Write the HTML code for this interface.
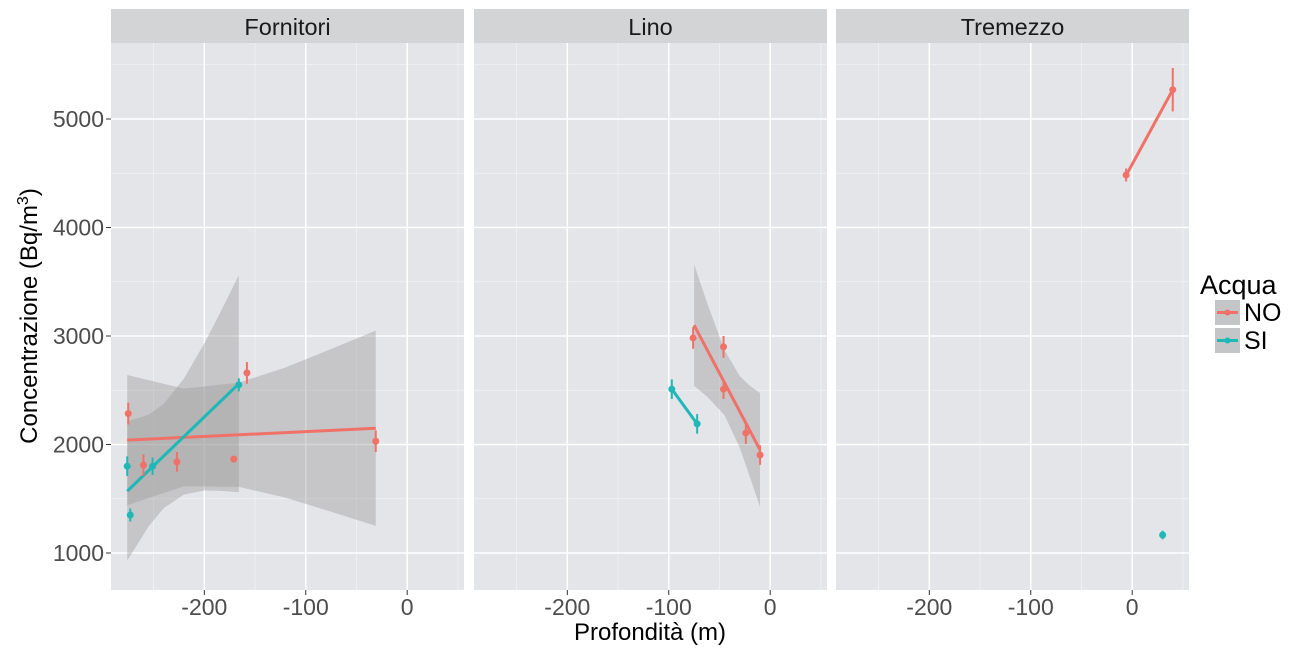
<!DOCTYPE html>
<html><head><meta charset="utf-8"><style>
body{margin:0;background:#fff;}
svg{display:block;font-family:"Liberation Sans",sans-serif;}
</style></head><body>
<svg id="chart" width="1299" height="650"></svg>
<script>
// ---- data ----
const panels = ["Fornitori","Lino","Tremezzo"];
const xTicks = [-200,-100,0];
const yTicks = [1000,2000,3000,4000,5000];
const noPanel = [0,0,0,0,0,0,1,1,1,1,1,2,2];
const noX = [-275,-260,-227,-171,-158,-31,-76,-46,-46,-24,-10,-6,40];
const noY = [2285,1810,1840,1865,2660,2030,2982,2900,2510,2106,1903,4484,5270];
const noErr = [100,100,90,0,100,100,100,100,90,100,90,60,200];
const siPanel = [0,0,0,0,1,1,2];
const siX = [-276,-273,-251,-166,-97,-72,30];
const siY = [1800,1350,1800,2550,2510,2190,1166];
const siErr = [90,60,80,60,90,90,40];
const noLinePanel = [0,1,2];
const noLineX0 = [-276,-75,-6], noLineY0 = [2040,3100,4480];
const noLineX1 = [-31,-10,40], noLineY1 = [2150,1950,5270];
const siLinePanel = [0,1];
const siLineX0 = [-276,-97], siLineY0 = [1570,2510];
const siLineX1 = [-166,-72], siLineY1 = [2560,2190];
const bandFornNoX = [-276,-220,-166,-120,-75,-31];
const bandFornNoLo = [1440,1615,1610,1510,1380,1250];
const bandFornNoHi = [2640,2515,2570,2710,2880,3050];
const bandFornSiX = [-276,-255,-240,-220,-200,-185,-166];
const bandFornSiLo = [928,1244,1414,1539,1576,1574,1560];
const bandFornSiHi = [2212,2274,2374,2609,2932,3204,3560];
const bandLinoNoX = [-75,-62,-45,-30,-20,-10];
const bandLinoNoLo = [2540,2440,2270,1970,1700,1425];
const bandLinoNoHi = [3660,3300,2870,2630,2540,2475];

const RED="#f07168", TEAL="#1fb8b7";
const svg=document.getElementById('chart');
const NS="http://www.w3.org/2000/svg";
function mk(tag,attrs,parent){const e=document.createElementNS(NS,tag);for(const k in attrs)e.setAttribute(k,attrs[k]);(parent||svg).appendChild(e);return e;}
const pLeft=[111,474,836], pW=353, pTop=43, pBot=590;
function X(p,v){return pLeft[p]+ (v+292)/348*pW;}
function Y(v){return 553-(v-1000)*0.1085;}

panels.forEach((name,p)=>{
  const g=mk('g',{});
  
  
  const bg=mk('rect',{x:pLeft[p],y:pTop,width:pW,height:pBot-pTop,fill:'#e4e5e8'},g);
  
  
  const st=mk('rect',{x:pLeft[p],y:9,width:pW,height:34,fill:'#d3d4d6'},g);
  
  
  const t=mk('text',{x:pLeft[p]+pW/2,y:35,'text-anchor':'middle','font-size':23.5,fill:'#1a1a1a'},g);
  t.textContent=name;
  
  
  for(let v=500; v<=5500; v+=1000){const y=Y(v); if(y>pTop&&y<pBot) mk('line',{x1:pLeft[p],x2:pLeft[p]+pW,y1:y,y2:y,stroke:'#f2f3f4','stroke-width':0.7},g);}
  for(let v=-250; v<=50; v+=100){const x=X(p,v); mk('line',{x1:x,x2:x,y1:pTop,y2:pBot,stroke:'#f2f3f4','stroke-width':0.7},g);}
  yTicks.forEach(v=>{const y=Y(v);mk('line',{x1:pLeft[p],x2:pLeft[p]+pW,y1:y,y2:y,stroke:'#fff','stroke-width':1.5},g);});
  xTicks.forEach(v=>{const x=X(p,v);mk('line',{x1:x,x2:x,y1:pTop,y2:pBot,stroke:'#fff','stroke-width':1.5},g);
    mk('line',{x1:x,x2:x,y1:pBot,y2:pBot+5,stroke:'#333','stroke-width':1},g);
    const tl=mk('text',{x:x,y:615,'text-anchor':'middle','font-size':23,fill:'#4d4d4d'},g);
    tl.textContent=v;
    
    
  });
});
yTicks.forEach(v=>{const y=Y(v);
  mk('line',{x1:106,x2:111,y1:y,y2:y,stroke:'#333','stroke-width':1});
  const tl=mk('text',{x:104,y:y+8,'text-anchor':'end','font-size':23,fill:'#4d4d4d'});
  tl.textContent=v;
  
  
});
function band(p,xs,lo,hi,name){
  let d='M'+xs.map((x,i)=>X(p,x)+','+Y(hi[i])).join('L');
  for(let i=xs.length-1;i>=0;i--) d+='L'+X(p,xs[i])+','+Y(lo[i]);
  const e=mk('path',{d:d+'Z',fill:'#999',opacity:0.4});
  
  
}
band(0,bandFornNoX,bandFornNoLo,bandFornNoHi,'band-fornitori-no');
band(0,bandFornSiX,bandFornSiLo,bandFornSiHi,'band-fornitori-si');
band(1,bandLinoNoX,bandLinoNoLo,bandLinoNoHi,'band-lino-no');
function lines(pn,x0,y0,x1,y1,col,name){
  pn.forEach((p,i)=>{const l=mk('line',{x1:X(p,x0[i]),y1:Y(y0[i]),x2:X(p,x1[i]),y2:Y(y1[i]),stroke:col,'stroke-width':3});
    
    });
}
function pts(pn,xs,ys,er,col,name){
  pn.forEach((p,i)=>{const x=X(p,xs[i]);
    if(er[i]>0) mk('line',{x1:x,x2:x,y1:Y(ys[i]+er[i]),y2:Y(ys[i]-er[i]),stroke:col,'stroke-width':2});
    const c=mk('circle',{cx:x,cy:Y(ys[i]),r:3.5,fill:col});
    
    });
}
lines(noLinePanel,noLineX0,noLineY0,noLineX1,noLineY1,RED,'fit-line-no');
lines(siLinePanel,siLineX0,siLineY0,siLineX1,siLineY1,TEAL,'fit-line-si');
pts(noPanel,noX,noY,noErr,RED,'point-no');
pts(siPanel,siX,siY,siErr,TEAL,'point-si');

const xt=mk('text',{x:650,y:640,'text-anchor':'middle','font-size':24,fill:'#000'});
xt.textContent='Profondità (m)';


const yt=mk('text',{x:0,y:0,'text-anchor':'middle','font-size':24,fill:'#000',transform:'translate(37,316) rotate(-90)'});
yt.innerHTML='Concentrazione (Bq/m<tspan dy="-9" font-size="16">3</tspan><tspan dy="9">)</tspan>';


const lg=mk('g',{});


const lt=mk('text',{x:1200,y:294,'font-size':27,fill:'#000'},lg);
lt.textContent='Acqua';
[['NO',RED,300],['SI',TEAL,328]].forEach(([lab,col,y])=>{
  const k=mk('g',{},lg);
  
  
  mk('rect',{x:1215,y:y,width:25,height:25,fill:'#c4c5c7'},k);
  mk('line',{x1:1217,x2:1238,y1:y+12.5,y2:y+12.5,stroke:col,'stroke-width':3},k);
  mk('circle',{cx:1227.5,cy:y+12.5,r:3,fill:col},k);
  const tx=mk('text',{x:1244,y:y+21,'font-size':25,fill:'#000'},k);
  tx.textContent=lab;
});
</script>
</body></html>
